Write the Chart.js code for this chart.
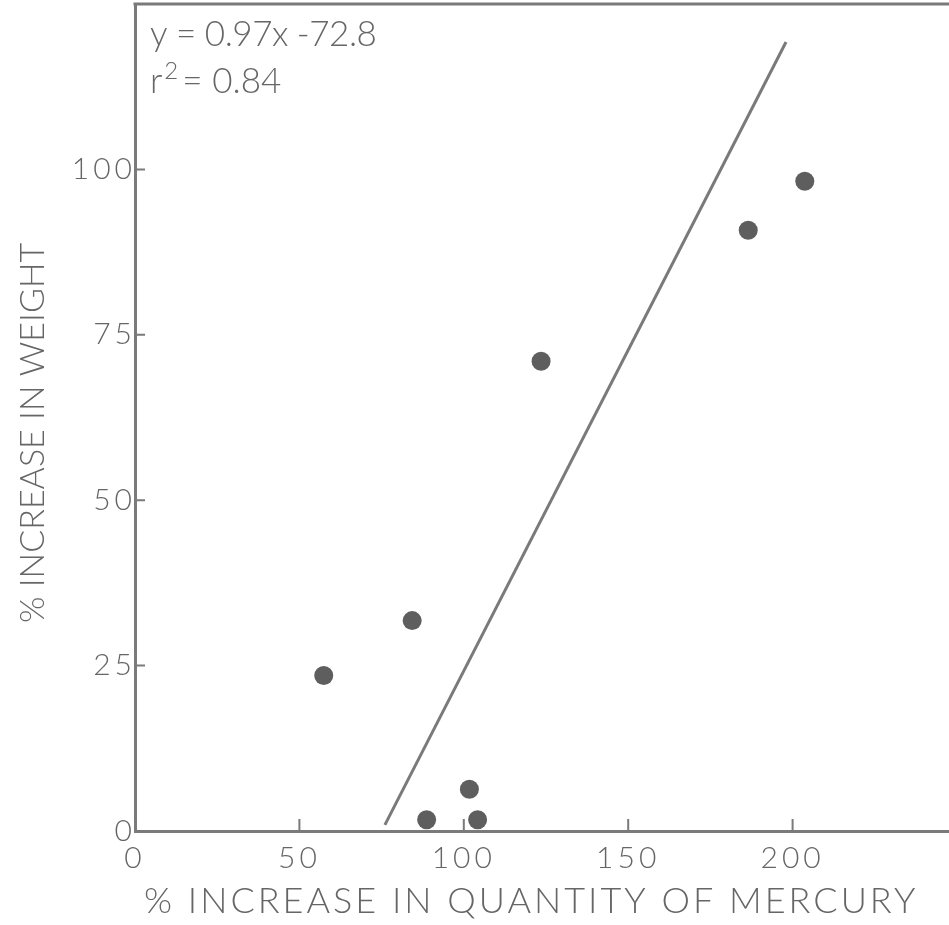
<!DOCTYPE html>
<html>
<head>
<meta charset="utf-8">
<script src="https://cdn.jsdelivr.net/npm/chart.js@4.4.1/dist/chart.umd.min.js"></script>
<style>
  html, body { margin: 0; padding: 0; background: #fff; overflow: hidden; }
  #wrap { width: 960px; height: 925px; }
</style>
</head>
<body>
<div id="wrap"><canvas id="chart" width="960" height="925"></canvas></div>
<script>
// % increase in quantity of mercury vs % increase in weight
const mercuryIncrease = [57.4, 84.3, 88.7, 101.7, 104.2, 123.5, 186.5, 203.7];
const weightIncrease = [23.5, 31.8, 1.7, 6.3, 1.7, 71.0, 90.8, 98.2];
const xTicks = [0, 50, 100, 150, 200];
const yTicks = [0, 25, 50, 75, 100];

// regression from the fit printed on the plot
const fitSlope = 0.97;
const fitIntercept = -72.8;
const fitRange = [76, 198];

const xTitle = "% INCREASE IN QUANTITY OF MERCURY";
const yTitle = "% INCREASE IN WEIGHT";

const INK = "#666666";
const AXIS = "#7a7a7a";
const DOT = "#5e5e5e";
const FONT = "Lato, 'DejaVu Sans', sans-serif";

const points = mercuryIncrease.map((x, i) => ({ x: x, y: weightIncrease[i] }));
const fitLine = fitRange.map(x => ({ x: x, y: fitSlope * x + fitIntercept }));

function spaced(ctx, text, x, y, spacing) {
  ctx.letterSpacing = spacing + "px";
  ctx.fillText(text, x, y);
  ctx.letterSpacing = "0px";
}

// frame top, inward tick marks, axis titles and the fit equation
const decorations = {
  id: "decorations",
  beforeDraw(chart) {
    chart.ctx.letterSpacing = "4px";
  },
  afterDraw(chart) {
    const ctx = chart.ctx;
    const area = chart.chartArea;
    const xs = chart.scales.x;
    const ys = chart.scales.y;
    ctx.save();
    ctx.letterSpacing = "0px";
    ctx.strokeStyle = AXIS;
    ctx.lineWidth = 3;
    ctx.beginPath();
    ctx.moveTo(area.left - 1.5, area.top);
    ctx.lineTo(area.right + 10, area.top);
    ctx.stroke();

    ctx.lineWidth = 2;
    ctx.beginPath();
    xTicks.slice(1).forEach(v => {
      const px = xs.getPixelForValue(v);
      ctx.moveTo(px, area.bottom);
      ctx.lineTo(px, area.bottom - 12);
    });
    yTicks.slice(1).forEach(v => {
      const py = ys.getPixelForValue(v);
      ctx.moveTo(area.left, py);
      ctx.lineTo(area.left + 10, py);
    });
    ctx.stroke();

    ctx.fillStyle = INK;
    ctx.font = "300 36px " + FONT;
    ctx.textAlign = "left";
    ctx.textBaseline = "alphabetic";
    spaced(ctx, xTitle, 144, 913, 3);

    ctx.save();
    ctx.translate(44, 623);
    ctx.rotate(-Math.PI / 2);
    ctx.font = "300 34px " + FONT;
    spaced(ctx, yTitle, 0, 0, 0);
    ctx.restore();

    ctx.font = "300 35px " + FONT;
    spaced(ctx, "y = 0.97x -72.8", 150, 46, -0.5);
    ctx.fillText("r", 150, 93);
    const rw = ctx.measureText("r").width;
    ctx.font = "300 24px " + FONT;
    ctx.fillText("2", 150 + rw + 2, 79);
    ctx.font = "300 35px " + FONT;
    ctx.fillText("= 0.84", 150 + rw + 20, 93);
    ctx.restore();
  }
};

new Chart(document.getElementById("chart"), {
  type: "scatter",
  data: {
    datasets: [
      {
        data: points,
        pointRadius: 9.5,
        pointHoverRadius: 9.5,
        backgroundColor: DOT,
        borderWidth: 0
      },
      {
        type: "line",
        data: fitLine,
        borderColor: AXIS,
        borderWidth: 3,
        pointRadius: 0,
        fill: false
      }
    ]
  },
  options: {
    responsive: false,
    animation: false,
    layout: { autoPadding: false, padding: { top: 4, right: 3, left: 0, bottom: 0 } },
    plugins: { legend: { display: false }, tooltip: { enabled: false } },
    scales: {
      x: {
        type: "linear",
        min: 0,
        max: 250,
        afterBuildTicks: s => { s.ticks = xTicks.map(v => ({ value: v })); },
        afterFit: s => { s.height = 94; s.paddingLeft = 0; s.paddingRight = 0; },
        grid: { display: false, drawTicks: false },
        border: { display: true, color: AXIS, width: 3 },
        ticks: { color: INK, font: { family: FONT, size: 30, weight: 300 }, padding: 9, maxRotation: 0 }
      },
      y: {
        type: "linear",
        min: 0,
        max: 125,
        afterBuildTicks: s => { s.ticks = yTicks.map(v => ({ value: v })); },
        afterFit: s => { s.width = 135; s.paddingTop = 0; s.paddingBottom = 0; },
        grid: { display: false, drawTicks: false },
        border: { display: true, color: AXIS, width: 3 },
        ticks: { color: INK, font: { family: FONT, size: 30, weight: 300 }, padding: -1 }
      }
    }
  },
  plugins: [decorations]
});
</script>
</body>
</html>
